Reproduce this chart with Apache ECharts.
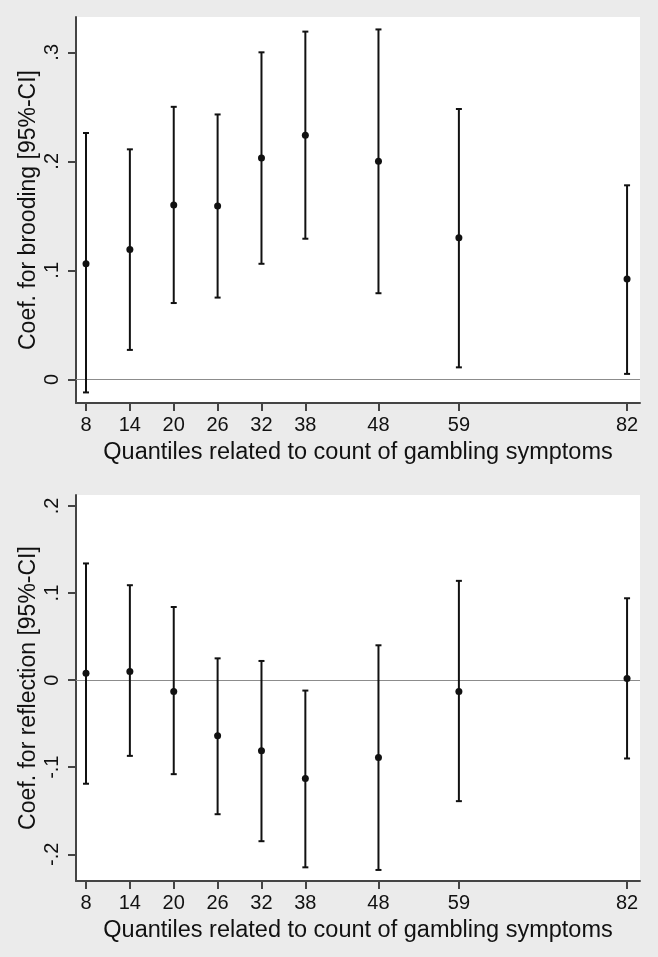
<!DOCTYPE html>
<html>
<head>
<meta charset="utf-8">
<script src="https://cdn.jsdelivr.net/npm/echarts@6/dist/echarts.min.js"></script>
<style>
  html, body { margin: 0; padding: 0; background: #ebebeb; }
  #main { width: 658px; height: 957px; }
</style>
</head>
<body>
<div id="main"></div>
<script>
// quantiles on the x axis (same for both panels)
const quantiles = [8, 14, 20, 26, 32, 38, 48, 59, 82]

// brooding panel
const broodCoef = [0.106, 0.119, 0.160, 0.159, 0.203, 0.224, 0.200, 0.130, 0.092]
const broodLow = [-0.012, 0.027, 0.070, 0.075, 0.106, 0.129, 0.079, 0.011, 0.005]
const broodHigh = [0.226, 0.211, 0.250, 0.243, 0.300, 0.319, 0.321, 0.248, 0.178]
const broodTicks = [0, 0.1, 0.2, 0.3]

// reflection panel
const reflCoef = [0.008, 0.010, -0.013, -0.064, -0.081, -0.113, -0.089, -0.013, 0.002]
const reflLow = [-0.119, -0.087, -0.108, -0.154, -0.185, -0.215, -0.218, -0.139, -0.090]
const reflHigh = [0.134, 0.109, 0.084, 0.025, 0.022, -0.012, 0.040, 0.114, 0.094]
const reflTicks = [-0.2, -0.1, 0, 0.1, 0.2]

const FONT = '"Liberation Sans", Arial, Helvetica, sans-serif'
const INK = '#111'
const AXIS_COLOR = '#444'
const xTitle = 'Quantiles related to count of gambling symptoms'

const fmtTick = v => {
  if (Math.abs(v) < 1e-9) return '0'
  const s = Math.abs(v).toFixed(1).replace(/^0/, '')
  return (v < 0 ? '-' : '') + s
}

const makeX = idx => ({
  type: 'value',
  gridIndex: idx,
  min: 6.632,
  max: 83.77,
  name: xTitle,
  nameLocation: 'middle',
  nameGap: 38,
  nameMoveOverlap: false,
  nameTextStyle: { fontFamily: FONT, fontSize: 23.5, color: INK },
  axisLine: { show: true, onZero: false, lineStyle: { color: AXIS_COLOR, width: 2 } },
  axisTick: { show: true, length: 8, customValues: quantiles, lineStyle: { color: AXIS_COLOR, width: 2 } },
  axisLabel: { customValues: quantiles, margin: 12, fontFamily: FONT, fontSize: 20, color: INK },
  splitLine: { show: false }
})

const makeY = (idx, min, max, ticks, title) => ({
  type: 'value',
  gridIndex: idx,
  min: min,
  max: max,
  name: title,
  nameLocation: 'middle',
  nameGap: 36,
  nameMoveOverlap: false,
  nameTextStyle: { fontFamily: FONT, fontSize: 23, color: INK },
  axisLine: { show: true, onZero: false, lineStyle: { color: AXIS_COLOR, width: 2 } },
  axisTick: { show: true, length: 8, customValues: ticks, lineStyle: { color: AXIS_COLOR, width: 2 } },
  axisLabel: { customValues: ticks, rotate: 90, margin: 14, fontFamily: FONT, fontSize: 20, color: INK, formatter: fmtTick },
  splitLine: { show: false }
})

// error bar with small caps
const renderBar = (params, api) => {
  const x = api.value(0)
  const lo = api.coord([x, api.value(1)])
  const hi = api.coord([x, api.value(2)])
  const cap = 3
  const style = { stroke: INK, lineWidth: 2 }
  return {
    type: 'group',
    children: [
      { type: 'line', shape: { x1: lo[0], y1: lo[1], x2: hi[0], y2: hi[1] }, style: style },
      { type: 'line', shape: { x1: lo[0] - cap, y1: lo[1], x2: lo[0] + cap, y2: lo[1] }, style: style },
      { type: 'line', shape: { x1: hi[0] - cap, y1: hi[1], x2: hi[0] + cap, y2: hi[1] }, style: style }
    ]
  }
}

const panelSeries = (idx, coef, low, high) => [
  {
    type: 'custom',
    xAxisIndex: idx,
    yAxisIndex: idx,
    renderItem: renderBar,
    encode: { x: 0, y: [1, 2] },
    data: quantiles.map((q, i) => [q, low[i], high[i]]),
    silent: true,
    z: 3
  },
  {
    type: 'scatter',
    xAxisIndex: idx,
    yAxisIndex: idx,
    symbol: 'circle',
    symbolSize: 7,
    itemStyle: { color: INK, opacity: 1 },
    data: quantiles.map((q, i) => [q, coef[i]]),
    z: 4,
    markLine: {
      silent: true,
      symbol: ['none', 'none'],
      label: { show: false },
      lineStyle: { color: '#8c8c8c', width: 1, type: 'solid' },
      data: [{ yAxis: 0 }],
      z: 2
    }
  }
]

const chartDom = document.getElementById('main')
const chartInstance = echarts.init(chartDom, null, { renderer: 'canvas' })

const option = {
  backgroundColor: '#ebebeb',
  animation: false,
  grid: [
    { left: 76, right: 18, top: 17, height: 386, show: true, backgroundColor: '#fff', borderWidth: 0 },
    { left: 76, right: 18, top: 495, height: 386, show: true, backgroundColor: '#fff', borderWidth: 0 }
  ],
  xAxis: [makeX(0), makeX(1)],
  yAxis: [
    makeY(0, -0.0217, 0.3324, broodTicks, 'Coef. for brooding [95%-CI]'),
    makeY(1, -0.2307, 0.2126, reflTicks, 'Coef. for reflection [95%-CI]')
  ],
  series: [
    ...panelSeries(0, broodCoef, broodLow, broodHigh),
    ...panelSeries(1, reflCoef, reflLow, reflHigh)
  ]
}

chartInstance.setOption(option)
</script>
</body>
</html>
